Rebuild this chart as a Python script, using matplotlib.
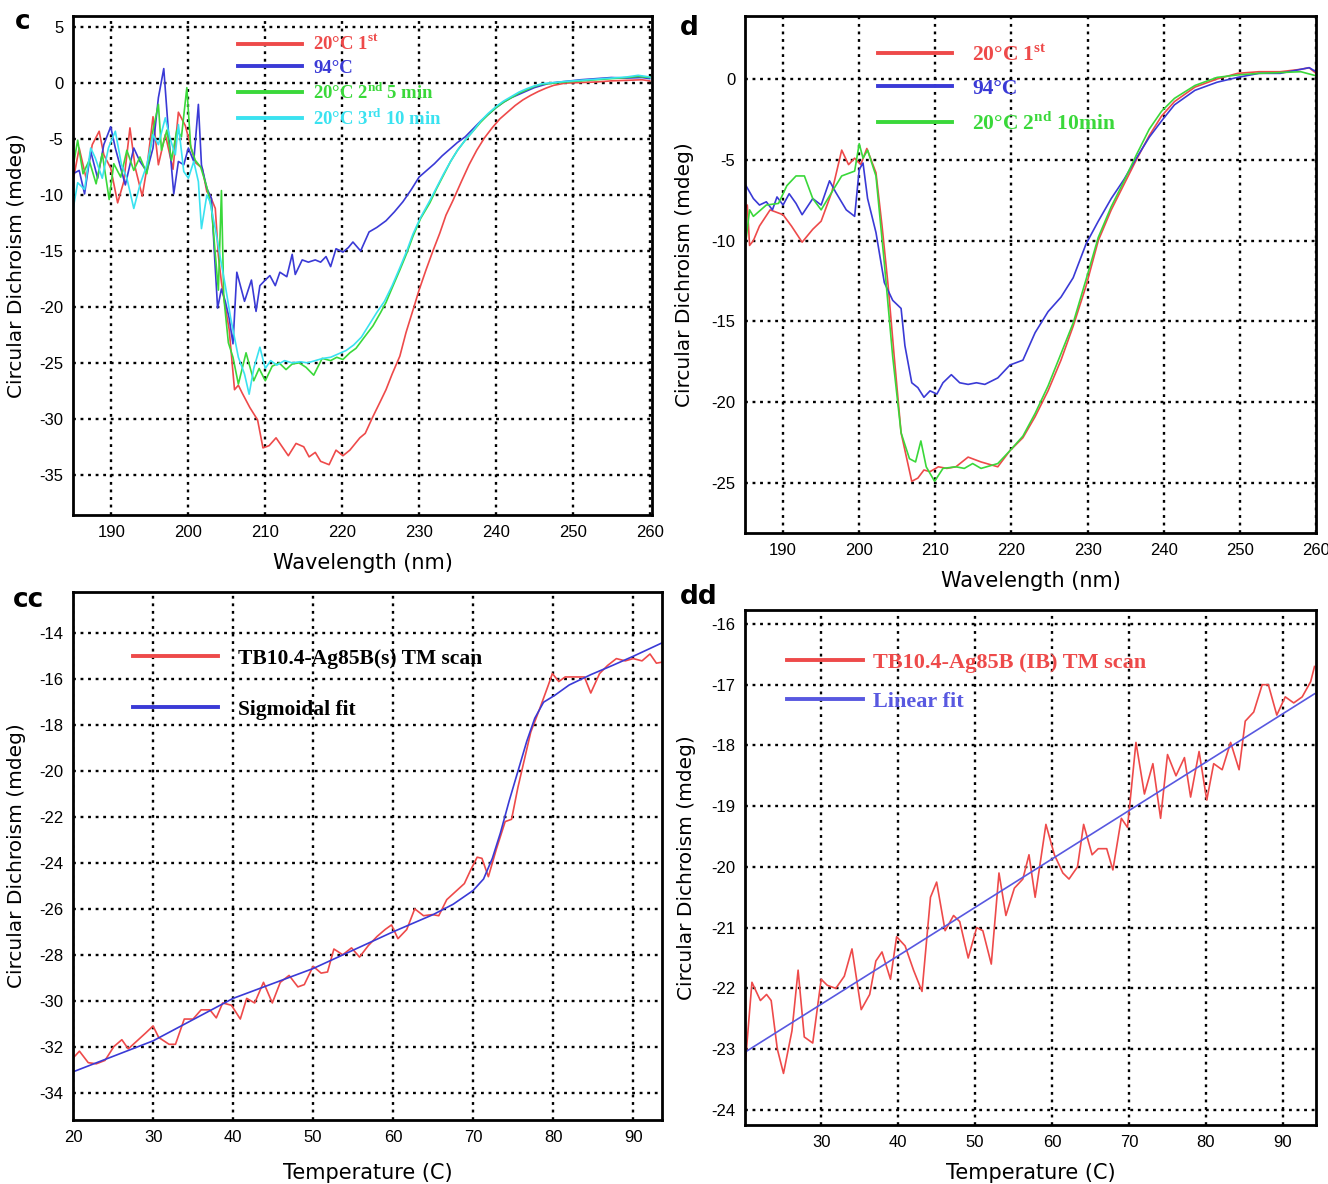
import matplotlib.pyplot as plt
import numpy as np

plt.rcParams['mathtext.fontset'] = 'custom'
plt.rcParams['mathtext.rm'] = 'Liberation Serif:bold'
plt.rcParams['mathtext.bf'] = 'Liberation Serif:bold'
plt.rcParams['axes.unicode_minus'] = False

# ---- panel c: CD spectra (wavelength nm, mdeg) ----
c_red = [(185,-8.75),(185.8,-5.8),(186.7,-8.5),(187.5,-5.5),(188.4,-4.3),(189,-6.4),(189.9,-7.6),(190.8,-10.7),
         (191.6,-8.8),(192.4,-4),(193.1,-7.6),(194,-10.1),(194.6,-7.6),(195.4,-3),(196.1,-7.3),(197,-4.6),(198,-7.7),
         (198.7,-2.6),(199.6,-3.8),(200.4,-5.9),(200.9,-7.1),(201.8,-7.6),(202.4,-9.7),(202.8,-10),(203.5,-11.2),
         (203.9,-15.4),(204.3,-17.8),(204.8,-20),(205.3,-22),(206,-27.4),(206.5,-27),(207,-27.7),(208,-29),(209,-30.1),
         (209.7,-32.6),(210.5,-32.4),(211.4,-31.7),(212.3,-32.6),(213,-33.3),(214,-32.2),(215,-32.5),(215.7,-33.4),
         (216.5,-33),(217.2,-33.8),(218.3,-34.1),(219.2,-32.8),(220.1,-33.3),(221,-32.8),(222.3,-31.7),(223,-31.3),
         (224,-29.8),(225,-28.4),(225.7,-27.4),(226.5,-26),(227.5,-24.4),(228.3,-22.3),(229.2,-20.3),(230,-18.5),
         (230.9,-16.7),(231.8,-15),(232.7,-13.4),(233.5,-11.8),(234.4,-10.5),(235.5,-8.8),(236.5,-7.3),(237.5,-6),
         (238.5,-4.9),(239.5,-4),(240.5,-3.2),(241.5,-2.6),(242.5,-2),(243.5,-1.5),(244.5,-1.1),(245.5,-0.75),
         (246.5,-0.45),(247.5,-0.2),(249,0),(251,0.05),(253,0.1),(255,0.2),(257,0.25),(259,0.3),(260,0.2)]
c_blue = [(185,-8.1),(185.8,-7.8),(186.5,-9.9),(187.3,-6.1),(188.2,-8.5),(189,-5.5),(189.9,-3.9),(190.5,-5.8),
          (191.2,-7.6),(191.8,-9.1),(192.9,-5.8),(193.7,-7),(194.6,-7.9),(195.4,-5.8),(196.1,-1.3),(196.8,1.3),
          (197.4,-4.3),(198.1,-9.9),(198.7,-7),(199.4,-7.3),(200,-5.8),(200.7,-7),(201.3,-1.9),(201.7,-7.3),
          (202.4,-9.4),(203,-10.3),(203.4,-15.4),(203.8,-20.1),(204.3,-18.4),(204.8,-19.5),(205.3,-21),(205.8,-23.3),
          (206.3,-16.9),(207.3,-19.5),(208.2,-17.6),(208.8,-20.4),(209.3,-18.1),(210,-17.6),(210.6,-17.2),
          (211.3,-18.1),(211.9,-16.9),(212.8,-17.3),(213.5,-15.3),(213.9,-17.1),(214.8,-15.8),(215.6,-16),
          (216.5,-15.8),(217.2,-16),(217.9,-15.5),(218.5,-16.4),(219.2,-14.8),(220.1,-15.1),(220.8,-14.7),
          (221.4,-14.2),(222.4,-15),(223.5,-13.3),(224.5,-12.9),(225.7,-12.3),(226.8,-11.5),(227.9,-10.6),(229,-9.5),
          (230,-8.4),(231,-7.8),(232,-7.2),(233,-6.5),(234,-5.9),(235,-5.3),(236,-4.8),(237,-4.1),(238,-3.4),
          (239,-2.8),(240,-2.2),(241,-1.7),(242,-1.3),(243,-1),(244,-0.7),(245,-0.4),(246,-0.2),(247,0),(249,0.15),
          (251,0.3),(253,0.4),(255,0.5),(257,0.45),(259,0.5),(260,0.4)]
c_green = [(185,-7.5),(185.6,-5.1),(186.3,-8.1),(187.1,-6.9),(188,-9),(188.8,-6.3),(189.7,-10.4),(190.3,-7.2),
           (191.2,-8.4),(192,-6),(192.9,-7.8),(193.7,-6.6),(194.6,-8.1),(195.4,-4.2),(196.1,-1.9),(196.5,-6),
           (197.2,-4.2),(197.8,-6.9),(198.5,-4.2),(199.1,-4.8),(199.8,-0.4),(200.3,-5.7),(200.9,-6.9),(201.6,-7.5),
           (202.4,-9.3),(203,-11.1),(203.5,-15.3),(203.9,-18.5),(204.3,-9.6),(204.6,-19.1),(205.2,-23.2),
           (205.8,-24.5),(206.5,-26.9),(207.5,-24.1),(208.5,-26.6),(209.2,-25.5),(210,-26.6),(210.9,-25.3),
           (211.8,-25),(212.7,-25.6),(213.5,-25.1),(214.4,-25),(215.3,-25.4),(216.3,-26.1),(217.4,-24.6),
           (218.5,-24.8),(219.3,-24.5),(220.1,-24.7),(221,-24.1),(221.8,-23.7),(223,-22.6),(224,-21.7),(225,-20.5),
           (225.7,-19.6),(226.5,-18.3),(227.5,-16.7),(228.4,-15.2),(229.2,-13.7),(230.2,-12.1),(231.4,-10.7),
           (232.3,-9.4),(233.2,-8.2),(234.1,-7),(235,-6),(236,-5.1),(237,-4.3),(238,-3.5),(239,-2.8),(240,-2.2),
           (241,-1.7),(242,-1.3),(243,-0.9),(244,-0.6),(245,-0.3),(246,-0.1),(247.5,0),(249,0.1),(251,0.2),
           (253,0.3),(255,0.4),(257,0.5),(258.5,0.6),(260,0.5)]
c_cyan = [(185,-11.3),(185.6,-8.9),(186.5,-9.5),(187.3,-5.8),(187.9,-6.7),(188.8,-8.5),(189.6,-5.8),(190.5,-4.3),
          (191.3,-7.3),(192,-8.5),(192.9,-11.2),(193.7,-9.1),(194.6,-7.3),(195.4,-4.6),(196.1,-5.5),(197,-3.1),
          (197.6,-4.9),(198.3,-6.4),(198.7,-3.7),(199.4,-7.9),(200,-8.5),(200.7,-7),(201.3,-8.8),(201.7,-13),
          (202.4,-10),(202.8,-10.6),(203.5,-13),(204.1,-15.4),(204.8,-18.1),(205.5,-21),(206.5,-24.5),(207.3,-26),
          (207.9,-27.8),(208.5,-25.5),(209.3,-23.6),(210,-25.5),(210.7,-24.8),(211.5,-25.2),(212.5,-24.8),
          (213.5,-25),(214.5,-24.9),(215.5,-25),(216.5,-24.8),(217.5,-24.6),(218.5,-24.5),(219.5,-24.2),
          (220.5,-23.9),(221.5,-23.4),(222.5,-22.7),(223.5,-21.6),(224.5,-20.5),(225.5,-19.5),(226.5,-18.1),
          (227.5,-16.5),(228.4,-15),(229.2,-13.5),(230.2,-12),(231.4,-10.5),(232.3,-9.3),(233.2,-8.1),(234.1,-7),
          (235,-6),(236,-5.1),(237,-4.3),(238,-3.4),(239,-2.7),(240,-2.1),(241,-1.6),(242,-1.2),(243,-0.8),
          (244,-0.5),(245,-0.25),(246,-0.05),(247.5,0.05),(249,0.15),(251,0.25),(253,0.35),(255,0.45),(257,0.55),
          (258.5,0.7),(260,0.55)]
c_labels = ['20°C 1$^{\\mathrm{st}}$', '94°C', '20°C 2$^{\\mathrm{nd}}$ 5 min', '20°C 3$^{\\mathrm{rd}}$ 10 min']

# ---- panel d: CD spectra ----
d_red = [(185,-8),(185.3,-7.8),(185.6,-10.3),(186.1,-10),(186.9,-9.1),(188.3,-8.1),(190,-8.4),(191.1,-9.1),
         (192.5,-10.1),(193.9,-9.3),(195,-8.8),(196.4,-7),(197.7,-4.4),(198.6,-5.3),(199.4,-4.9),(200.2,-5.3),
         (201,-4.3),(202.2,-5.8),(203,-9.1),(203.8,-12.8),(204.6,-17.2),(205.5,-21.9),(206.9,-24.9),(207.7,-24.7),
         (208.5,-24.2),(209.3,-24.3),(210.4,-24),(211.5,-24.1),(212.7,-24),(214.3,-23.4),(216,-23.7),(218.2,-24),
         (219.8,-23),(221.5,-22.2),(223.1,-20.9),(224.8,-19.3),(226.5,-17.4),(228.1,-15.3),(229.8,-12.8),
         (231.4,-10),(233.1,-8.1),(234.8,-6.5),(236.4,-5),(238.1,-3.5),(239.7,-2.3),(241.4,-1.4),(244.1,-0.5),
         (247,0),(249.7,0.35),(252.5,0.45),(255.3,0.45),(258,0.6),(259.1,0.7),(260,0.35)]
d_blue = [(185,-6.5),(186.1,-7.4),(186.9,-7.8),(187.8,-7.6),(188.6,-8.1),(189.2,-7.3),(190,-7.8),(190.8,-7.1),
          (191.7,-7.7),(192.5,-8.4),(193.9,-7.4),(195,-7.8),(196.1,-6.3),(196.9,-7),(198.3,-8.1),(199.4,-8.5),
          (200,-5.6),(200.5,-5.2),(201.1,-7.4),(202.2,-9.5),(203.3,-12.6),(204.4,-13.7),(205.5,-14.2),(206,-16.5),
          (206.9,-18.8),(207.7,-19.1),(208.5,-19.7),(209.3,-19.3),(210.2,-19.5),(211,-18.8),(212.1,-18.3),
          (213.2,-18.8),(214.3,-18.9),(215.4,-18.8),(216.5,-18.9),(218.2,-18.5),(219.8,-17.7),(221.5,-17.4),
          (223.1,-15.7),(224.8,-14.4),(226.5,-13.5),(228.1,-12.3),(229.8,-10.2),(231.4,-8.8),(233.1,-7.4),
          (234.8,-6.2),(236.4,-4.9),(238.1,-3.6),(239.7,-2.6),(241.4,-1.6),(244.1,-0.7),(247,-0.2),(249.7,0.1),
          (252.5,0.35),(255.3,0.35),(258,0.6),(259.1,0.7),(260,0.45)]
d_green = [(185,-10.5),(185.6,-8.1),(186.1,-8.5),(187.8,-7.8),(189.4,-7.7),(190.5,-6.6),(191.7,-6),(192.8,-6),
           (193.9,-7.4),(195,-8.1),(196.4,-7),(197.7,-6),(199.4,-5.7),(200,-4),(200.5,-4.9),(201.1,-4.4),
           (202.2,-6),(203.3,-11.4),(204.4,-17.2),(205.5,-21.9),(206.6,-23.5),(207.4,-23.7),(208.1,-22.4),
           (208.8,-24),(209.9,-24.9),(211,-24.1),(212.7,-24),(213.8,-24.1),(214.9,-23.8),(216,-24.1),(218.2,-23.8),
           (219.8,-23),(221.5,-22.1),(223.1,-20.7),(224.8,-19),(226.5,-17),(228.1,-15.1),(229.8,-12.4),(231.4,-9.8),
           (233.1,-7.9),(234.8,-6.3),(236.4,-4.7),(238.1,-3.1),(239.7,-2),(241.4,-1.2),(244.1,-0.4),(247,0.1),
           (249.7,0.25),(252.5,0.35),(255.3,0.4),(258,0.45),(260,0.2)]
d_labels = ['20°C 1$^{\\mathrm{st}}$', '94°C', '20°C 2$^{\\mathrm{nd}}$ 10min']

# ---- panel cc: thermal melt, soluble protein ----
cc_scan = [(20,-32.5),(20.8,-32.2),(21.9,-32.7),(22.9,-32.75),(24,-32.6),(25.1,-32),(26.1,-31.7),(26.9,-32.1),
           (28,-31.75),(29.1,-31.4),(30,-31.1),(30.7,-31.6),(32,-31.9),(32.8,-31.9),(33.9,-30.8),(35,-30.8),
           (36,-30.4),(37.1,-30.4),(37.9,-30.75),(38.7,-30.1),(39.8,-30.2),(40.9,-30.8),(41.7,-29.9),(42.7,-30.1),
           (43.8,-29.2),(44.9,-30.1),(45.9,-29.2),(47,-28.9),(48.1,-29.4),(48.9,-29.3),(50,-28.5),(51,-28.8),
           (51.8,-28.75),(52.6,-27.75),(53.7,-28),(54.8,-27.7),(55.8,-28.1),(56.9,-27.6),(58,-27.2),(59,-26.9),
           (59.8,-26.7),(60.6,-27.3),(61.7,-26.9),(62.7,-26),(63.8,-26.3),(64.9,-26.25),(65.7,-26.3),(66.7,-25.6),
           (67.8,-25.25),(68.9,-24.9),(69.7,-24.3),(70.5,-23.75),(71.1,-23.8),(71.9,-24.6),(72.9,-23.4),(74,-22.2),
           (74.8,-22.1),(75.6,-20.7),(76.4,-19.5),(77.2,-18.3),(78.3,-17.3),(79.4,-16.25),(79.9,-15.75),(80.7,-16.1),
           (81.5,-15.9),(82.8,-15.9),(83.9,-15.9),(84.7,-16.6),(85.8,-15.75),(86.8,-15.4),(87.9,-15.1),(89,-15.2),
           (90,-15.1),(91.1,-15.2),(92.1,-14.9),(92.9,-15.3),(93.7,-15.25)]
cc_fit = [(20,-33.1),(30,-31.75),(40,-29.9),(50,-28.6),(60,-27),(65,-26.25),(67.5,-25.8),(70,-25.2),(71.3,-24.7),
          (72.4,-23.8),(73.4,-22.7),(74.5,-21.3),(75.6,-20),(76.7,-18.7),(77.7,-17.7),(78.8,-17),(80.2,-16.7),
          (82,-16.25),(84.7,-15.8),(87.4,-15.4),(90,-15),(93.7,-14.4)]
cc_labels = ['TB10.4-Ag85B(s) TM scan', 'Sigmoidal fit']

# ---- panel dd: thermal melt, inclusion-body protein ----
dd_scan = [(20.1,-23.3),(21,-21.9),(22.1,-22.2),(22.9,-22.1),(23.5,-22.2),(24.3,-23),(25.1,-23.4),(26.2,-22.7),
           (27,-21.7),(27.8,-22.8),(28.9,-22.9),(30,-21.85),(30.8,-21.95),(31.9,-22),(33,-21.8),(34,-21.35),
           (35.2,-22.35),(36.3,-22.1),(37.1,-21.55),(37.9,-21.4),(39,-21.85),(39.8,-21.15),(40.9,-21.3),(42,-21.7),
           (43.1,-22.05),(44.2,-20.5),(45,-20.25),(46.1,-21.05),(47.2,-20.8),(48,-20.9),(49.1,-21.5),(50.2,-21),
           (51,-21.05),(52.1,-21.6),(53.1,-20.1),(54,-20.8),(55.1,-20.35),(56.2,-20.2),(57,-19.8),(57.8,-20.5),
           (59.2,-19.3),(60.3,-19.8),(61.4,-20.1),(62.2,-20.2),(63.3,-20),(64.1,-19.3),(65.2,-19.8),(66,-19.7),
           (67.1,-19.7),(67.9,-20.05),(69,-19.2),(69.8,-19.35),(70.9,-17.95),(72,-18.8),(73.1,-18.3),(74.1,-19.2),
           (75,-18.15),(76.1,-18.5),(77.2,-18.2),(78,-18.85),(79.1,-18.1),(80.1,-18.9),(81,-18.3),(82.1,-18.4),
           (83.2,-17.95),(84.3,-18.4),(85.1,-17.6),(86.2,-17.45),(87.3,-17),(88.1,-17),(89.2,-17.5),(90.3,-17.2),
           (91.4,-17.3),(92.5,-17.2),(93.6,-16.95),(94.1,-16.7)]
dd_fit = [(20.1,-23.05),(94.1,-17.15)]
dd_labels = ['TB10.4-Ag85B (IB) TM scan', 'Linear fit']

RED = '#ee4a4a'
BLUE = '#3a3ad6'
GREEN = '#3ad83a'
CYAN = '#3ae2f0'

tick_font = ['Liberation Sans', 'DejaVu Sans']
label_font = ['DejaVu Sans']
legend_font = dict(family='Liberation Serif', weight='bold')


def style(ax, xlim, ylim, xticks, yticks, xlabel, ylabel, xlab_y, ylab_x, tick_size=12):
    ax.set_xlim(*xlim)
    ax.set_ylim(*ylim)
    ax.set_xticks(xticks)
    ax.set_yticks(yticks)
    ax.set_axisbelow(True)
    ax.grid(True, color='black', linestyle=(0, (1.2, 2.0)), linewidth=1.7)
    ax.tick_params(length=0, pad=7)
    for lbl in ax.get_xticklabels() + ax.get_yticklabels():
        lbl.set_family(tick_font)
        lbl.set_fontsize(tick_size)
    for sp in ax.spines.values():
        sp.set_linewidth(2.0)
        sp.set_color('black')
    ax.set_xlabel(xlabel, family=label_font, fontsize=15)
    ax.set_ylabel(ylabel, family=label_font, fontsize=14.5)
    ax.xaxis.set_label_coords(0.5, xlab_y)
    ax.yaxis.set_label_coords(ylab_x, 0.5)


def line(ax, pts, color, label, lw=1.2):
    x, y = np.array(pts).T
    ax.plot(x, y, color=color, lw=lw, label=label)


def legend(ax, anchor, size, hlen, hpad, spacing, labelcolor='linecolor'):
    leg = ax.legend(loc='upper left', bbox_to_anchor=anchor, frameon=False, borderpad=0, borderaxespad=0,
                    handlelength=hlen, handletextpad=hpad, labelspacing=spacing, labelcolor=labelcolor,
                    prop=dict(size=size, **legend_font))
    for h in leg.get_lines():
        h.set_linewidth(2.8)


fig = plt.figure(figsize=(13.28, 11.84), dpi=100)

ylab = 'Circular Dichroism (mdeg)'

# c
ax = fig.add_axes([0.055, 0.565, 0.436, 0.4215])
for pts, col, lab in zip([c_red, c_blue, c_green, c_cyan], [RED, BLUE, GREEN, CYAN], c_labels):
    line(ax, pts, col, lab)
style(ax, (185, 260.3), (-38.6, 6), range(190, 261, 10), range(5, -36, -5), 'Wavelength (nm)', ylab,
      -0.076, -0.081)
legend(ax, (0.285, 0.962), 13.5, 3.4, 0.6, 0.28)

# d
ax = fig.add_axes([0.561, 0.5498, 0.430, 0.4367])
for pts, col, lab in zip([d_red, d_blue, d_green], [RED, BLUE, GREEN], d_labels):
    line(ax, pts, col, lab)
style(ax, (185, 260), (-28.1, 3.9), range(190, 261, 10), range(0, -26, -5), 'Wavelength (nm)', ylab,
      -0.0735, -0.089)
legend(ax, (0.233, 0.944), 15.5, 3.45, 0.93, 0.6)

# cc
ax = fig.add_axes([0.055, 0.054, 0.4435, 0.446])
line(ax, cc_scan, RED, cc_labels[0])
line(ax, cc_fit, BLUE, cc_labels[1])
style(ax, (20, 93.6), (-35.2, -12.2), range(20, 91, 10), range(-14, -35, -2), 'Temperature (C)', ylab,
      -0.081, -0.080)
legend(ax, (0.102, 0.893), 15.5, 3.95, 0.93, 1.45, labelcolor='black')

# dd
ax = fig.add_axes([0.561, 0.0498, 0.430, 0.435])
line(ax, dd_scan, RED, dd_labels[0])
line(ax, dd_fit, '#5858e0', dd_labels[1])
style(ax, (20.1, 94.3), (-24.25, -15.77), range(30, 91, 10), range(-16, -25, -1), 'Temperature (C)', ylab,
      -0.074, -0.086)
legend(ax, (0.0735, 0.918), 16, 3.4, 0.45, 0.85)

for x, y, s in [(0.011, 0.981, 'c'), (0.512, 0.976, 'd'), (0.010, 0.493, 'cc'), (0.512, 0.496, 'dd')]:
    fig.text(x, y, s, fontsize=19, fontweight='bold', family='DejaVu Sans', va='center')

fig.savefig('out.png', dpi=100, facecolor='white')
